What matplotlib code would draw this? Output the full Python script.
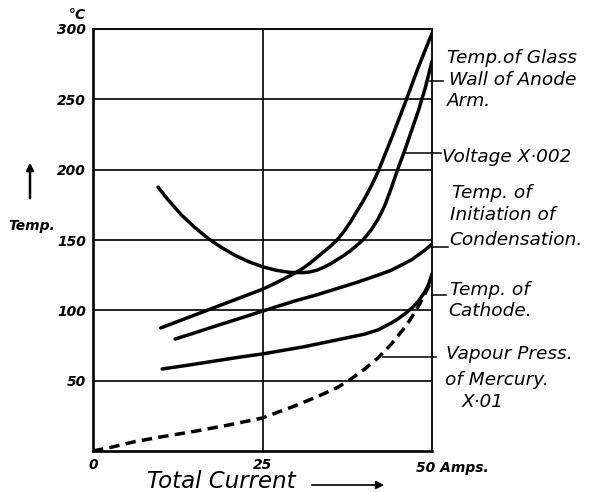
import matplotlib.pyplot as plt

# curves: current (amps) vs value
glass_x = [10, 13, 16, 19, 22, 25, 27, 29, 30, 31, 32, 33, 34, 35, 36, 37, 38, 39, 40,
           41, 42, 43, 44, 45, 46, 47, 48, 49, 50]
glass_y = [87.5, 93, 98.5, 104, 109.5, 115, 119.5, 124.5, 127, 130, 133.5, 137.5, 141.5,
           145.5, 150, 156, 163, 171, 179, 188, 198, 210, 222, 234.5, 247, 260, 273, 285, 297]

volt_x = [9.6, 11, 13, 15, 17, 19, 21, 23, 25, 27, 29, 31, 32, 33, 34, 35, 36, 37, 38, 39,
          40, 41, 42, 43, 44, 45, 46, 47, 48, 49, 50]
volt_y = [187.5, 179, 168, 159, 151, 144.5, 139, 134.5, 131, 128.5, 127, 126.8, 127.3,
          128.5, 130.5, 133, 136, 139, 142.5, 146.5, 151, 157, 164.5, 174, 187, 201, 214,
          228, 242, 258, 277]

cond_x = [12.1, 15, 18, 21, 24, 27, 30, 33, 36, 39, 42, 44, 46, 47, 48, 49, 50]
cond_y = [79.6, 84, 88.7, 93.3, 97.9, 102.5, 107, 111, 115.5, 120, 125, 128.5, 133.5,
          136, 139.5, 143, 147]

cath_x = [10.2, 14, 18, 22, 25, 28, 31, 34, 37, 40, 41, 42, 43, 44, 45, 46, 47, 48, 49,
          49.5, 50]
cath_y = [58.3, 61, 64, 67, 69, 71.5, 74, 77, 80, 83, 84.5, 86, 88.5, 91, 94, 97.5, 101.5,
          106.5, 113.5, 118.5, 126]

vap_x = [0, 3, 6, 10, 15, 20, 25, 30, 33, 36, 38, 40, 41, 42, 43, 44, 45, 46, 47, 48, 49, 50]
vap_y = [0, 3, 6.5, 10, 14, 18.5, 23.5, 32.5, 38.5, 45, 51, 58, 62, 66, 71, 76, 82, 88,
         95, 103, 112, 122]

y_ticks = [50, 100, 150, 200, 250, 300]

fig = plt.figure(figsize=(5.92, 4.92), dpi=100)
ax = fig.add_axes([93/592, 41/492, 339/592, 422/492])
ax.set_xlim(0, 50)
ax.set_ylim(0, 300)

# grid
for yv in y_ticks:
    ax.axhline(yv, color='black', lw=1.2, zorder=1)
ax.axvline(25, color='black', lw=1.2, zorder=1)

lw = 2.5
for xs, ys in [(glass_x, glass_y), (volt_x, volt_y), (cond_x, cond_y), (cath_x, cath_y)]:
    ax.plot(xs, ys, color='black', lw=lw, solid_capstyle='round',
            solid_joinstyle='round', zorder=3)
ax.plot(vap_x, vap_y, color='black', lw=lw, dashes=[3, 1.8], zorder=3)

for side in ['left', 'bottom']:
    ax.spines[side].set_linewidth(1.9)
for side in ['top', 'right']:
    ax.spines[side].set_linewidth(1.3)

tick_font = dict(fontsize=10, fontweight='bold', fontstyle='italic')
ax.set_yticks(y_ticks)
ax.set_yticklabels([str(v) for v in y_ticks], **tick_font)
ax.set_xticks([0, 25])
ax.set_xticklabels(['0', '25'], **tick_font)
ax.tick_params(length=0, pad=5)

ax.text(47.6, -12, '50 Amps.', ha='left', va='center', clip_on=False, **tick_font)
ax.text(-1.0, 305, '°C', ha='right', va='bottom', clip_on=False, **tick_font)

# left label with arrow
fig.text(32/592, 1 - 226/492, 'Temp.', ha='center', va='center', **tick_font)
ax.annotate('', xy=(30/592, 1 - 160/492), xytext=(30/592, 1 - 201/492),
            xycoords='figure fraction',
            arrowprops=dict(arrowstyle='-|>', color='black', lw=1.8, mutation_scale=10))

# bottom label with arrow
fig.text(147/592, 1 - 482/492, 'Total Current', ha='left', va='center',
         fontsize=16.5, fontstyle='italic')
ax.annotate('', xy=(387/592, 1 - 485/492), xytext=(309/592, 1 - 485/492),
            xycoords='figure fraction',
            arrowprops=dict(arrowstyle='-|>', color='black', lw=1.2, mutation_scale=12))

# leader lines to curve labels
leaders = [((49.7, 51.6), 263), ((46.0, 51.3), 212), ((50, 52.4), 145),
           ((50, 52.1), 111), ((42.8, 50.6), 67)]
for (x0, x1), yv in leaders:
    ax.plot([x0, x1], [yv, yv], color='black', lw=1.1, clip_on=False, zorder=2)

lab_font = dict(fontsize=13.3, fontstyle='italic', ha='left', va='center', clip_on=False)
labels = [(52.2, 279.4, 'Temp.of Glass'), (52.5, 263.7, 'Wall of Anode'), (52.2, 248.8, 'Arm.'),
          (51.5, 209, 'Voltage X·002'),
          (53.0, 183.4, 'Temp. of'), (52.7, 167.8, 'Initiation of'), (52.5, 150, 'Condensation.'),
          (52.7, 114.5, 'Temp. of'), (52.4, 99.5, 'Cathode.'),
          (52.1, 69, 'Vapour Press.'), (51.9, 50.5, 'of Mercury.'), (54.4, 34.8, 'X·01')]
for xv, yv, s in labels:
    ax.text(xv, yv, s, **lab_font)

fig.savefig('out.png', dpi=100)
